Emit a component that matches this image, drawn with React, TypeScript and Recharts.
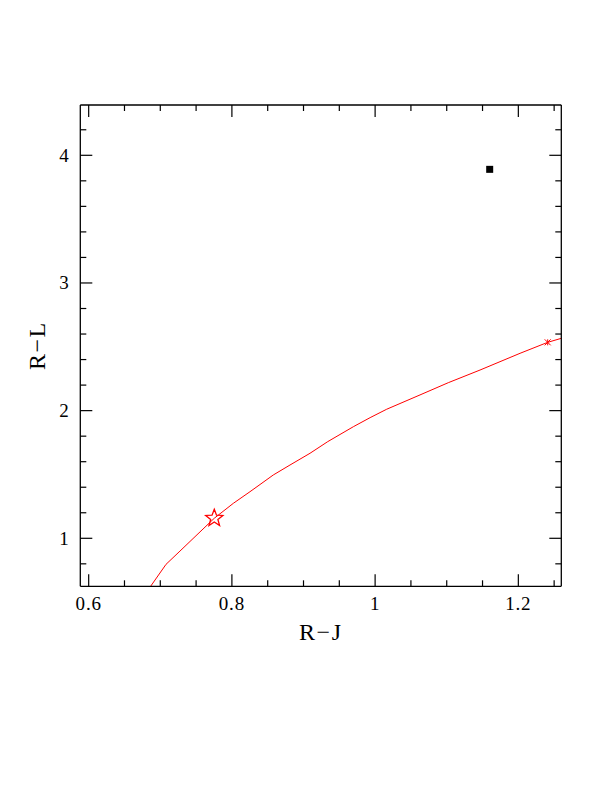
import React from 'react';
import { ComposedChart, Line, Scatter, XAxis, YAxis, Label } from 'recharts';

// Model track (R-J, R-L)
const curveX = [0.671, 0.708, 0.7275, 0.7754, 0.802, 0.8253, 0.8578, 0.8811, 0.9091, 0.9338, 0.9696, 0.993, 1.0162, 1.0627, 1.1022, 1.1465, 1.2024, 1.241, 1.27];
const curveY = [0.5, 0.796, 0.9, 1.157, 1.274, 1.365, 1.496, 1.574, 1.666, 1.757, 1.874, 1.945, 2.011, 2.123, 2.219, 2.318, 2.449, 2.535, 2.583];

// Markers
const starX = [0.7754];
const starY = [1.157];
const crossX = [1.241];
const crossY = [2.535];
const squareX = [1.16];
const squareY = [3.89];

// Axes
const xDomain = [0.5883, 1.26];
const yDomain = [0.624, 4.394];
const xMajorTicks = [0.6, 0.8, 1.0, 1.2];
const xTickLabels = ['0.6', '0.8', '1', '1.2'];
const xAllTicks = [0.6, 0.65, 0.7, 0.75, 0.8, 0.85, 0.9, 0.95, 1.0, 1.05, 1.1, 1.15, 1.2, 1.25];
const yMajorTicks = [1, 2, 3, 4];
const yTickLabels = ['1', '2', '3', '4'];
const yAllTicks = [0.8, 1.0, 1.2, 1.4, 1.6, 1.8, 2.0, 2.2, 2.4, 2.6, 2.8, 3.0, 3.2, 3.4, 3.6, 3.8, 4.0, 4.2];

const curve = curveX.map((x, i) => ({ x, y: curveY[i] }));
const stars = starX.map((x, i) => ({ x, y: starY[i] }));
const crosses = crossX.map((x, i) => ({ x, y: crossY[i] }));
const squares = squareX.map((x, i) => ({ x, y: squareY[i] }));

const FONT = '"Liberation Serif", "DejaVu Serif", serif';
const MAJOR = 12;
const MINOR = 6;

const majorIndex = (v: number, majors: number[]) => majors.findIndex((m) => Math.abs(m - v) < 1e-6);

const XTickBottom = (props: any) => {
  const { x, y, payload } = props;
  const idx = majorIndex(payload.value, xMajorTicks);
  const len = idx >= 0 ? MAJOR : MINOR;
  return (
    <g>
      <line x1={x} x2={x} y1={y} y2={y - len} stroke="#000" strokeWidth={1.2} />
      {idx >= 0 && (
        <text x={x} y={y + 24} textAnchor="middle" fontSize={19} letterSpacing={0.8} fontFamily={FONT} fill="#000">
          {xTickLabels[idx]}
        </text>
      )}
    </g>
  );
};

const XTickTop = (props: any) => {
  const { x, y, payload } = props;
  const idx = majorIndex(payload.value, xMajorTicks);
  const len = idx >= 0 ? MAJOR : MINOR;
  return <line x1={x} x2={x} y1={y} y2={y + len} stroke="#000" strokeWidth={1.2} />;
};

const YTickLeft = (props: any) => {
  const { x, y, payload } = props;
  const idx = majorIndex(payload.value, yMajorTicks);
  const len = idx >= 0 ? MAJOR : MINOR;
  return (
    <g>
      <line x1={x} x2={x + len} y1={y} y2={y} stroke="#000" strokeWidth={1.2} />
      {idx >= 0 && (
        <text x={x - 16.3} y={y + 6.3} textAnchor="middle" fontSize={19} fontFamily={FONT} fill="#000">
          {yTickLabels[idx]}
        </text>
      )}
    </g>
  );
};

const YTickRight = (props: any) => {
  const { x, y, payload } = props;
  const idx = majorIndex(payload.value, yMajorTicks);
  const len = idx >= 0 ? MAJOR : MINOR;
  return <line x1={x} x2={x - len} y1={y} y2={y} stroke="#000" strokeWidth={1.2} />;
};

const XTitle = (props: any) => {
  const vb = props.viewBox || { x: 72.3, y: 578.3, width: 481, height: 50 };
  const cx = vb.x + vb.width / 2;
  return (
    <text x={cx} y={vb.y + 54} textAnchor="middle" fontSize={24} letterSpacing={1.5} fontFamily={FONT} fill="#000">
      R−J
    </text>
  );
};

const YTitle = (props: any) => {
  const vb = props.viewBox || { x: 12.3, y: 97, width: 60, height: 481.3 };
  const bx = vb.x + vb.width - 35.5;
  const cy = vb.y + vb.height / 2;
  return (
    <text
      x={bx}
      y={cy}
      transform={`rotate(-90, ${bx}, ${cy})`}
      textAnchor="middle"
      fontSize={24}
      letterSpacing={1.5}
      fontFamily={FONT}
      fill="#000"
    >
      R−L
    </text>
  );
};

const StarShape = (props: any) => {
  const { cx, cy } = props;
  const R = 9;
  const r = 3.8;
  const pts: string[] = [];
  for (let i = 0; i < 10; i++) {
    const ang = -Math.PI / 2 + (i * Math.PI) / 5;
    const rad = i % 2 === 0 ? R : r;
    pts.push(`${cx + rad * Math.cos(ang)},${cy + rad * Math.sin(ang)}`);
  }
  return <polygon points={pts.join(' ')} fill="none" stroke="#ff0000" strokeWidth={1.3} />;
};

const CrossShape = (props: any) => {
  const { cx, cy } = props;
  const s = 3;
  return (
    <g stroke="#ff0000" strokeWidth={1}>
      <line x1={cx - s} y1={cy - s} x2={cx + s} y2={cy + s} />
      <line x1={cx - s} y1={cy + s} x2={cx + s} y2={cy - s} />
      <line x1={cx} y1={cy - s} x2={cx} y2={cy + s} />
    </g>
  );
};

const SquareShape = (props: any) => {
  const { cx, cy } = props;
  const s = 3.5;
  return <rect x={cx - s} y={cy - s} width={2 * s} height={2 * s} fill="#000" />;
};

const axisLine = { stroke: '#000', strokeWidth: 1.3 };

export default function App() {
  return (
    <div style={{ width: 596, height: 700, background: '#fff' }}>
      <ComposedChart
        width={596}
        height={700}
        margin={{ top: 77, right: 22.7, bottom: 71.7, left: 12.3 }}
        style={{ fontFamily: FONT }}
      >
        <XAxis
          xAxisId="b"
          dataKey="x"
          type="number"
          orientation="bottom"
          domain={xDomain}
          allowDataOverflow
          ticks={xAllTicks}
          interval={0}
          tickSize={0}
          tickMargin={0}
          tickLine={false}
          axisLine={axisLine}
          tick={<XTickBottom />}
          height={50}
        >
          <Label content={<XTitle />} />
        </XAxis>
        <XAxis
          xAxisId="t"
          dataKey="x"
          type="number"
          orientation="top"
          domain={xDomain}
          allowDataOverflow
          ticks={xAllTicks}
          interval={0}
          tickSize={0}
          tickMargin={0}
          tickLine={false}
          axisLine={axisLine}
          tick={<XTickTop />}
          height={20}
        />
        <YAxis
          yAxisId="l"
          dataKey="y"
          type="number"
          orientation="left"
          domain={yDomain}
          allowDataOverflow
          ticks={yAllTicks}
          interval={0}
          tickSize={0}
          tickMargin={0}
          tickLine={false}
          axisLine={axisLine}
          tick={<YTickLeft />}
          width={60}
        >
          <Label content={<YTitle />} />
        </YAxis>
        <YAxis
          yAxisId="r"
          dataKey="y"
          type="number"
          orientation="right"
          domain={yDomain}
          allowDataOverflow
          ticks={yAllTicks}
          interval={0}
          tickSize={0}
          tickMargin={0}
          tickLine={false}
          axisLine={axisLine}
          tick={<YTickRight />}
          width={20}
        />
        <Line
          xAxisId="b"
          yAxisId="l"
          data={curve}
          dataKey="y"
          type="linear"
          stroke="#ff0000"
          strokeWidth={1}
          dot={false}
          activeDot={false}
          isAnimationActive={false}
        />
        <Scatter xAxisId="b" yAxisId="l" data={stars} dataKey="y" shape={<StarShape />} isAnimationActive={false} />
        <Scatter xAxisId="b" yAxisId="l" data={crosses} dataKey="y" shape={<CrossShape />} isAnimationActive={false} />
        <Scatter xAxisId="b" yAxisId="l" data={squares} dataKey="y" shape={<SquareShape />} isAnimationActive={false} />
      </ComposedChart>
    </div>
  );
}
